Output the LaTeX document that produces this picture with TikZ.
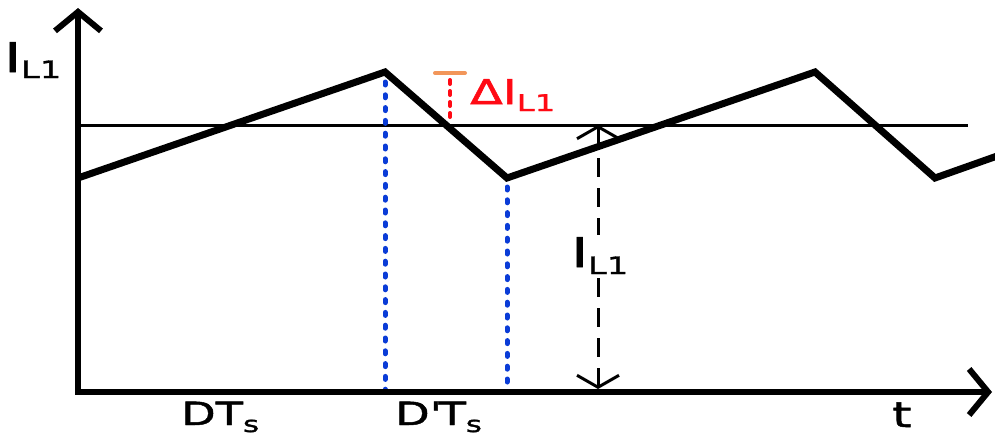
\documentclass[tikz,border=0pt]{standalone}
\usepackage{fontspec}
\setmainfont{DejaVu Sans}[FakeStretch=1.4,FakeBold=1.5]
\usetikzlibrary{arrows.meta}
\definecolor{myblue}{RGB}{10,60,215}
\definecolor{myred}{RGB}{255,10,20}
\definecolor{myorange}{RGB}{242,150,90}
\newcommand\fs[1]{\fontsize{#1}{#1}\selectfont}
\newcommand\lbl[4]{{\fs{#1}#2}\raisebox{-#4pt}{\fs{#3}L1}}
\begin{document}
\begin{tikzpicture}[x=1pt,y=-1pt,
  axis/.style={line width=6pt,-{Straight Barb[length=19pt,width=46pt,line width=6pt]}},
  wave/.style={line width=7pt,line join=miter},
  thin/.style={line width=3pt},
  bdot/.style={myblue,line width=5pt,line cap=round,dash pattern=on 3pt off 9.8pt},
  rdot/.style={myred,line width=4pt,line cap=round,dash pattern=on 4pt off 7pt},
  darr/.style={line width=3pt,dash pattern=on 19pt off 11pt,{Straight Barb[length=12pt,width=42pt,line width=3pt]}-{Straight Barb[length=12pt,width=42pt,line width=3pt]}},
  txt/.style={inner sep=0pt,anchor=base west}]
\useasboundingbox (0,0) rectangle (995,436);
% coordinates
\coordinate (O) at (78,392);
\coordinate (ytip) at (78,8);
\coordinate (xtip) at (992,392);
\coordinate (h0) at (78,125);
\coordinate (h1) at (968,125);
\coordinate (p0) at (78,178);
\coordinate (p1) at (385,72);
\coordinate (p2) at (507,178);
\coordinate (p3) at (815,72);
\coordinate (p4) at (935,178);
\coordinate (p5) at (1000,155);
\coordinate (b1) at (385,390);
\coordinate (b2) at (507,390);
\coordinate (r0) at (450,80);
\coordinate (r1) at (450,123);
\coordinate (c0) at (435,73);
\coordinate (c1) at (465,73);
\coordinate (a0) at (598,125);
\coordinate (a1) at (598,389);
% average line
\draw[thin] (h0) -- (h1);
% dotted markers
\draw[bdot] (385,82) -- (b1);
\draw[bdot] (507,187) -- (b2);
\draw[rdot] (r0) -- (r1);
\draw[myorange,line width=4pt,line cap=round] (c0) -- (c1);
% waveform
\draw[wave] (p0) -- (p1) -- (p2) -- (p3) -- (p4) -- (p5);
% axes
\draw[axis] (O) -- (ytip);
\draw[axis] ([xshift=-3pt]O) -- (xtip);
% dashed arrow
\draw[darr] (a0) -- (a1);
\node[txt,fill=white,inner sep=2pt] (mid) at (569,267) {\lbl{41}{I}{24}{7}};
% labels
\node[txt] (ylab) at (4,72) {\lbl{41}{I}{24}{6}};
\node[txt,myred] (dlab) at (470,104) {\lbl{34}{ΔI}{23}{7}};
\node[txt] (dts) at (181,425) {{\fs{32}DT}\raisebox{-7pt}{\fs{22}s}};
\node[txt] (ddts) at (395,425) {{\fs{32}D\textquotesingle T}\raisebox{-7pt}{\fs{22}s}};
\node[txt] (tl) at (892,427) {\fs{35}t};
\end{tikzpicture}
\end{document}
